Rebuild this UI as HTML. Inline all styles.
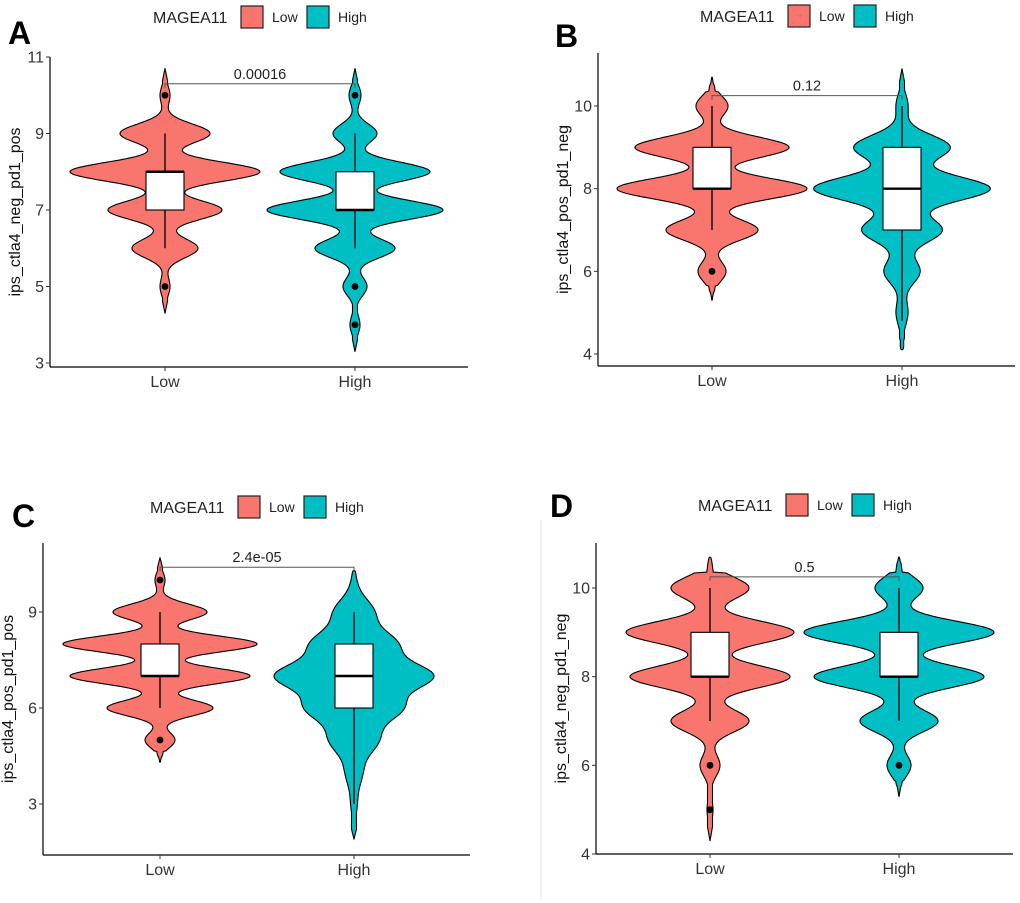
<!DOCTYPE html>
<html><head><meta charset="utf-8"><style>
body{margin:0;background:#fff;}
svg{display:block;font-family:"Liberation Sans",sans-serif;}
</style></head><body>
<svg id="s" width="1020" height="903" viewBox="0 0 1020 903">
<line x1="541" y1="520" x2="541" y2="900" stroke="#e6e6e6" stroke-width="1"/>
</svg>
<script>
// Panel data (values = integer score levels; density = relative half-width)
const categories = ["Low", "High"];
const levels = [3, 4, 5, 6, 7, 8, 9, 10];
const pValues = ["0.00016", "0.12", "2.4e-05", "0.5"];
const yTitles = ["ips_ctla4_neg_pd1_pos", "ips_ctla4_pos_pd1_neg", "ips_ctla4_pos_pd1_pos", "ips_ctla4_neg_pd1_neg"];
const panelLetters = ["A", "B", "C", "D"];
const yTicksA = [3, 5, 7, 9, 11];
const yTicksB = [4, 6, 8, 10];
const yTicksC = [3, 6, 9];
const yTicksD = [4, 6, 8, 10];
// densities at levels 3..10
const densA_Low  = [0, 0, 5, 33, 57, 95, 45, 5];
const densA_High = [0, 5, 12, 40, 88, 75, 22, 6];
const densB_Low  = [0, 0, 0, 14, 46, 95, 77, 16];
const densB_High = [0, 2, 6, 18, 40, 88, 48, 6];
const densC_Low  = [0, 0, 15, 53, 90, 97, 47, 5];
const densC_High = [3, 8, 23, 45, 75, 40, 19, 2];
const densD_Low  = [0, 0, 3, 10, 39, 80, 84, 39];
const densD_High = [0, 0, 0, 12, 39, 85, 95, 24];
// value ranges [min, max]
const rangeA = [[4.3, 10.7], [3.3, 10.7]];
const rangeB = [[5.3, 10.7], [4.1, 10.9]];
const rangeC = [[4.3, 10.7], [1.9, 10.3]];
const rangeD = [[4.3, 10.7], [5.3, 10.7]];
// box stats [whiskerLow, q1, median, q3, whiskerHigh]
const boxA = [[6, 7, 8, 8, 9], [6, 7, 7, 8, 9]];
const boxB = [[7, 8, 8, 9, 10], [4.8, 7, 8, 9, 10]];
const boxC = [[6, 7, 7, 8, 9], [3, 6, 7, 8, 9]];
const boxD = [[7, 8, 8, 9, 10], [7, 8, 8, 9, 10]];
const outA = [[10, 5], [10, 5, 4]];
const outB = [[6], []];
const outC = [[10, 5], []];
const outD = [[6, 5], [6]];
const bracketY = [10.3, 10.25, 10.4, 10.25];

const colors = {Low: "#F8766D", High: "#00BFC4"};
const NS = "http://www.w3.org/2000/svg";
const svg = document.getElementById("s");
function mk(tag, attrs, parent) {
  const e = document.createElementNS(NS, tag);
  for (const k in attrs) e.setAttribute(k, attrs[k]);
  (parent || svg).appendChild(e);
  return e;
}
const layouts = [
  [50, 468, 57, 367, 11, 57, 3, 363, 165, 355, 8, 44, 153, 17, 0.25, 0.25],
  [598, 1015, 53, 366, 10, 106, 4, 354, 712, 902, 555, 47, 700, 16, 0.25, 0.3],
  [43, 470, 543, 855, 9, 612, 3, 804, 160, 354, 12, 527, 150, 507, 0.25, 0.42],
  [596, 1013, 543, 854, 10, 588, 4, 854, 710, 899, 550, 517, 698, 505, 0.25, 0.25]
];
const allTicks = [yTicksA, yTicksB, yTicksC, yTicksD];
const allDens = [[densA_Low, densA_High], [densB_Low, densB_High], [densC_Low, densC_High], [densD_Low, densD_High]];
const allRange = [rangeA, rangeB, rangeC, rangeD];
const allBox = [boxA, boxB, boxC, boxD];
const allOut = [outA, outB, outC, outD];

layouts.forEach((L, pi) => {
  const g = mk("g", {});
  
  
  const [ax, ar, at, ab, v1, y1, v2, y2, lx, hx, ltx, lty, lgx, lgy, sL, sH] = L;
  const yS = v => y1 + (v - v1) * (y2 - y1) / (v2 - v1);
  const xS = c => c === 0 ? lx : hx;
  const lt = mk("text", {x: ltx, y: lty, "font-size": 32, "font-weight": "bold"}, g);
  lt.textContent = panelLetters[pi];
  
  
  const lg = mk("g", {}, g);
  
  
  const lgt = mk("text", {x: lgx, y: lgy + 6, "font-size": 16, fill: "#222"}, lg);
  lgt.textContent = "MAGEA11";
  categories.forEach((c, i) => {
    const bx = lgx + 88 + i * 66;
    const r = mk("rect", {x: bx, y: lgy - 11, width: 22, height: 22, fill: colors[c], stroke: "#222", "stroke-width": 1.2}, lg);
    
    
    const t = mk("text", {x: bx + 31, y: lgy + 5, "font-size": 14, fill: "#222"}, lg);
    t.textContent = c;
    
    
  });
  const yAx = mk("line", {x1: ax, y1: at, x2: ax, y2: ab, stroke: "#000", "stroke-width": 1.2}, g);
  
  
  const xAx = mk("line", {x1: ax, y1: ab, x2: ar, y2: ab, stroke: "#000", "stroke-width": 1.2}, g);
  
  
  allTicks[pi].forEach(v => {
    const y = yS(v);
    mk("line", {x1: ax - 4, y1: y, x2: ax, y2: y, stroke: "#333", "stroke-width": 1}, g);
    const t = mk("text", {x: ax - 6, y: y + 5.5, "text-anchor": "end", "font-size": 16, fill: "#333"}, g);
    t.textContent = v;
    
    
  });
  const yt = mk("text", {transform: `translate(${ax - 30},${(at + ab) / 2}) rotate(-90)`, "text-anchor": "middle", "font-size": 16, fill: "#111"}, g);
  yt.textContent = yTitles[pi];
  
  
  categories.forEach((c, ci) => {
    const x = xS(ci);
    mk("line", {x1: x, y1: ab, x2: x, y2: ab + 4, stroke: "#333", "stroke-width": 1}, g);
    const t = mk("text", {x: x, y: ab + 20, "text-anchor": "middle", "font-size": 16, fill: "#333"}, g);
    t.textContent = c;
    
    
    const dens = allDens[pi][ci];
    const [mn, mx] = allRange[pi][ci];
    const sig = ci === 0 ? sL : sH;
    const w = v => {
      let s = 0;
      levels.forEach((lv, k) => { s += dens[k] * Math.exp(-((v - lv) ** 2) / (2 * sig * sig)); });
      return s;
    };
    const N = 300; const right = [], left = [];
    for (let i = 0; i <= N; i++) {
      const v = mx - (mx - mn) * i / N;
      let hw = w(v);
      const edge = Math.min(v - mn, mx - v);
      hw = Math.max(hw, Math.min(2.5, edge * 8));
      if (edge < 0.35) hw = Math.min(hw, 1.2 + edge * 6);
      if (i === 0 || i === N) hw = 0;
      right.push([x + hw, yS(v)]); left.push([x - hw, yS(v)]);
    }
    const pts = right.concat(left.reverse()).map(p => p[0].toFixed(1) + "," + p[1].toFixed(1)).join(" ");
    const vi = mk("polygon", {points: pts, fill: colors[c], stroke: "#000", "stroke-width": 1.1, "stroke-linejoin": "round"}, g);
    
    
    const b = allBox[pi][ci];
    const bw = 19;
    mk("line", {x1: x, y1: yS(b[0]), x2: x, y2: yS(b[1]), stroke: "#000", "stroke-width": 1.3}, g);
    mk("line", {x1: x, y1: yS(b[3]), x2: x, y2: yS(b[4]), stroke: "#000", "stroke-width": 1.3}, g);
    const br = mk("rect", {x: x - bw, y: yS(b[3]), width: 2 * bw, height: yS(b[1]) - yS(b[3]), fill: "#fff", stroke: "#000", "stroke-width": 1.1}, g);
    
    
    const md = mk("line", {x1: x - bw, y1: yS(b[2]), x2: x + bw, y2: yS(b[2]), stroke: "#000", "stroke-width": 2.4}, g);
    
    
    allOut[pi][ci].forEach(o => {
      const p = mk("circle", {cx: x, cy: yS(o), r: 3.4, fill: "#000"}, g);
      
      
    });
  });
  const by = yS(bracketY[pi]);
  const bk = mk("path", {d: `M${lx},${by + 4}V${by}H${hx}V${by + 4}`, fill: "none", stroke: "#555", "stroke-width": 1}, g);
  
  
  const pt = mk("text", {x: (lx + hx) / 2, y: by - 5, "text-anchor": "middle", "font-size": 14.5, fill: "#222"}, g);
  pt.textContent = pValues[pi];
  
  
});
</script>
</body></html>
